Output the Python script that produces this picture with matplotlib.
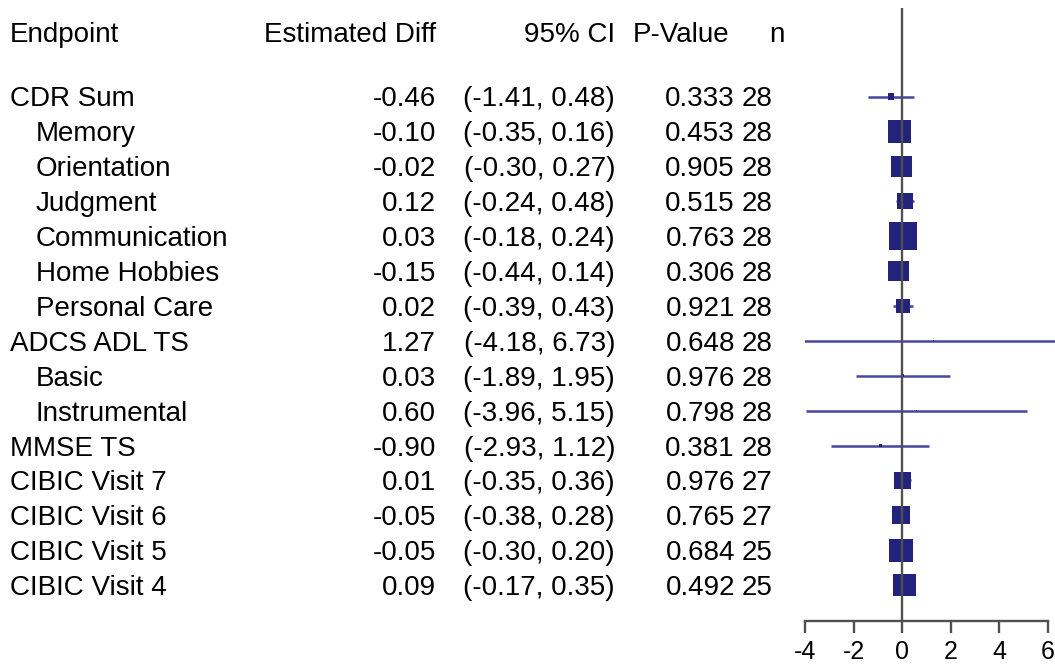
import numpy as np
import matplotlib
matplotlib.use("Agg")
import matplotlib.pyplot as plt
import matplotlib.transforms as mtransforms

# table data, one entry per endpoint row (top to bottom)
endpoints = ["CDR Sum", "Memory", "Orientation", "Judgment", "Communication",
             "Home Hobbies", "Personal Care", "ADCS ADL TS", "Basic",
             "Instrumental", "MMSE TS", "CIBIC Visit 7", "CIBIC Visit 6",
             "CIBIC Visit 5", "CIBIC Visit 4"]
level = [0, 1, 1, 1, 1, 1, 1, 0, 1, 1, 0, 0, 0, 0, 0]
est_diff = [-0.46, -0.10, -0.02, 0.12, 0.03, -0.15, 0.02, 1.27, 0.03,
            0.60, -0.90, 0.01, -0.05, -0.05, 0.09]
ci_low = [-1.41, -0.35, -0.30, -0.24, -0.18, -0.44, -0.39, -4.18, -1.89,
          -3.96, -2.93, -0.35, -0.38, -0.30, -0.17]
ci_high = [0.48, 0.16, 0.27, 0.48, 0.24, 0.14, 0.43, 6.73, 1.95,
           5.15, 1.12, 0.36, 0.28, 0.20, 0.35]
p_value = [0.333, 0.453, 0.905, 0.515, 0.763, 0.306, 0.921, 0.648, 0.976,
           0.798, 0.381, 0.976, 0.765, 0.684, 0.492]
n_obs = [28, 28, 28, 28, 28, 28, 28, 28, 28, 28, 28, 27, 27, 25, 25]
headers = ["Endpoint", "Estimated Diff", "95% CI", "P-Value", "n"]
x_ticks = [-4, -2, 0, 2, 4, 6]

W, H = 1055, 664
FS = 20
FONT = ["Liberation Sans", "DejaVu Sans"]
BOX = "#23237e"
LINE = "#4646a0"
AXC = "#505050"

plt.rcParams["font.family"] = FONT

fig = plt.figure(figsize=(W / 100, H / 100), dpi=100)
ax = fig.add_axes([805 / W, 1 - 621 / H, (1055 - 805) / W, (621 - 8) / H])

rows = np.arange(len(endpoints))
row0, step = 96.5, 34.9  # pixel y of first row and row spacing
ax.set_ylim((621 - row0) / step, (8 - row0) / step)
ax.set_xlim(-4, (1055 - 902.2) / 24.3)

# confidence intervals and boxes (box side ~ 1 / CI width)
lo = np.array(ci_low)
hi = np.array(ci_high)
ax.hlines(rows, lo, hi, color=LINE, lw=1.8, zorder=2)
side_pt = 11.7 / (hi - lo) * 0.72
ax.scatter(est_diff, rows, marker="s", s=side_pt ** 2, color=BOX,
           linewidths=0, zorder=3)
ax.axvline(0, color=AXC, lw=1.7, zorder=4)

for s in ["left", "right", "top"]:
    ax.spines[s].set_visible(False)
ax.spines["bottom"].set_bounds(-4, 6)
ax.spines["bottom"].set_color(AXC)
ax.spines["bottom"].set_linewidth(1.7)
ax.set_yticks([])
ax.set_xticks(x_ticks)
ax.set_xticklabels([str(t) for t in x_ticks])
ax.tick_params(axis="x", length=8.5, width=1.7, color=AXC, pad=5,
               labelsize=18)
ax.set_facecolor("none")

# table text to the left of the plot
blend = mtransforms.blended_transform_factory(fig.transFigure, ax.transData)
base = 10 / step  # baseline offset from cap centre


def put(px, y, s, ha):
    ax.text(px / W, y + base, s, transform=blend, ha=ha, va="baseline",
            fontsize=FS, color="black")


hy = (32 - row0) / step
put(10, hy, headers[0], "left")
put(436, hy, headers[1], "right")
put(615, hy, headers[2], "right")
put(633, hy, headers[3], "left")
put(769, hy, headers[4], "left")

for i in rows:
    put(10 if level[i] == 0 else 36, i, endpoints[i], "left")
    put(436, i, f"{est_diff[i]:.2f}", "right")
    put(615, i, f"({ci_low[i]:.2f}, {ci_high[i]:.2f})", "right")
    put(735, i, f"{p_value[i]:.3f}", "right")
    put(742, i, str(n_obs[i]), "left")

fig.savefig("out.png", dpi=100)
